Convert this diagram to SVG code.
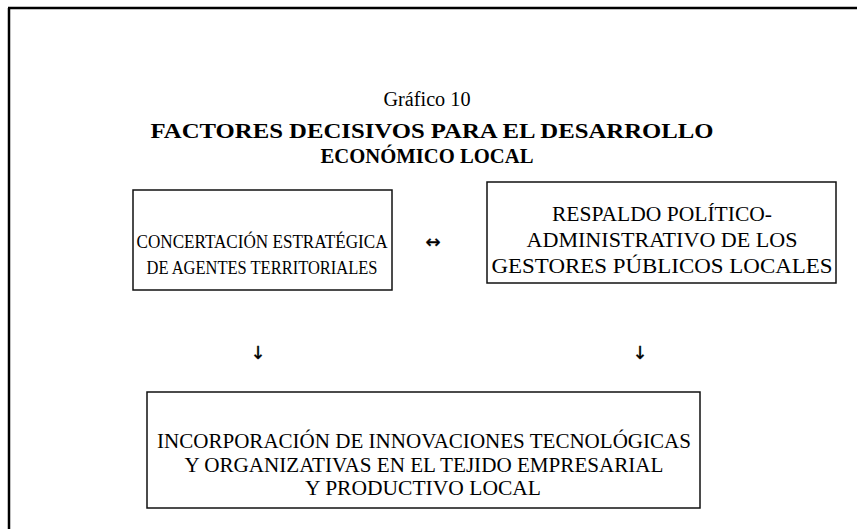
<svg xmlns="http://www.w3.org/2000/svg" width="857" height="529" viewBox="0 0 857 529">
<style>
.frame{stroke:#000;stroke-width:2.5;fill:none}
.box{stroke:#111;stroke-width:1.5;fill:#fff}
.t{font-family:"Liberation Serif","Times New Roman",serif;font-size:20px;fill:#000;text-anchor:middle}
.ts{font-size:18px}
.tl{font-size:21px}
.h{font-family:"Liberation Serif","Times New Roman",serif;font-weight:bold;font-size:22px;fill:#000;text-anchor:middle}
.sub{font-family:"Liberation Serif","Times New Roman",serif;font-size:20px;fill:#000;text-anchor:middle}
.arr{font-family:"DejaVu Sans",sans-serif;font-size:18px;fill:#000;text-anchor:middle;stroke:#000;stroke-width:0.4}
</style>
<rect width="857" height="529" fill="#fff"/>
<g id="frame">
<line class="frame" x1="8" y1="8" x2="857" y2="8"/>
<line class="frame" x1="9" y1="8" x2="9" y2="529"/>
</g>
<g id="title">
<text class="sub" x="427" y="106" textLength="87" lengthAdjust="spacingAndGlyphs">Gráfico 10</text>
<text class="h" x="432" y="138" textLength="563" lengthAdjust="spacingAndGlyphs">FACTORES DECISIVOS PARA EL DESARROLLO</text>
<text class="h" x="427" y="163" textLength="213" lengthAdjust="spacingAndGlyphs">ECONÓMICO LOCAL</text>
</g>
<g id="node-concertacion">
<rect class="box" x="133" y="190" width="259" height="100"/>
<text class="t ts" x="262" y="248" textLength="251" lengthAdjust="spacingAndGlyphs">CONCERTACIÓN ESTRATÉGICA</text>
<text class="t ts" x="262" y="274" textLength="231" lengthAdjust="spacingAndGlyphs">DE AGENTES TERRITORIALES</text>
</g>
<g id="node-respaldo">
<rect class="box" x="487" y="182" width="349" height="101"/>
<text class="t tl" x="662" y="221" textLength="220" lengthAdjust="spacingAndGlyphs">RESPALDO POLÍTICO-</text>
<text class="t tl" x="662" y="247" textLength="271" lengthAdjust="spacingAndGlyphs">ADMINISTRATIVO DE LOS</text>
<text class="t tl" x="662" y="273" textLength="341" lengthAdjust="spacingAndGlyphs">GESTORES PÚBLICOS LOCALES</text>
</g>
<g id="node-incorporacion">
<rect class="box" x="147" y="392" width="553" height="116"/>
<text class="t" x="424" y="448" textLength="534" lengthAdjust="spacingAndGlyphs">INCORPORACIÓN DE INNOVACIONES TECNOLÓGICAS</text>
<text class="t" x="424" y="472" textLength="479" lengthAdjust="spacingAndGlyphs">Y ORGANIZATIVAS EN EL TEJIDO EMPRESARIAL</text>
<text class="t" x="423" y="495" textLength="236" lengthAdjust="spacingAndGlyphs">Y PRODUCTIVO LOCAL</text>
</g>
<g id="connectors">
<text class="arr" x="433" y="248">↔</text>
<text class="arr" x="258" y="359">↓</text>
<text class="arr" x="640" y="359">↓</text>
</g>
</svg>
